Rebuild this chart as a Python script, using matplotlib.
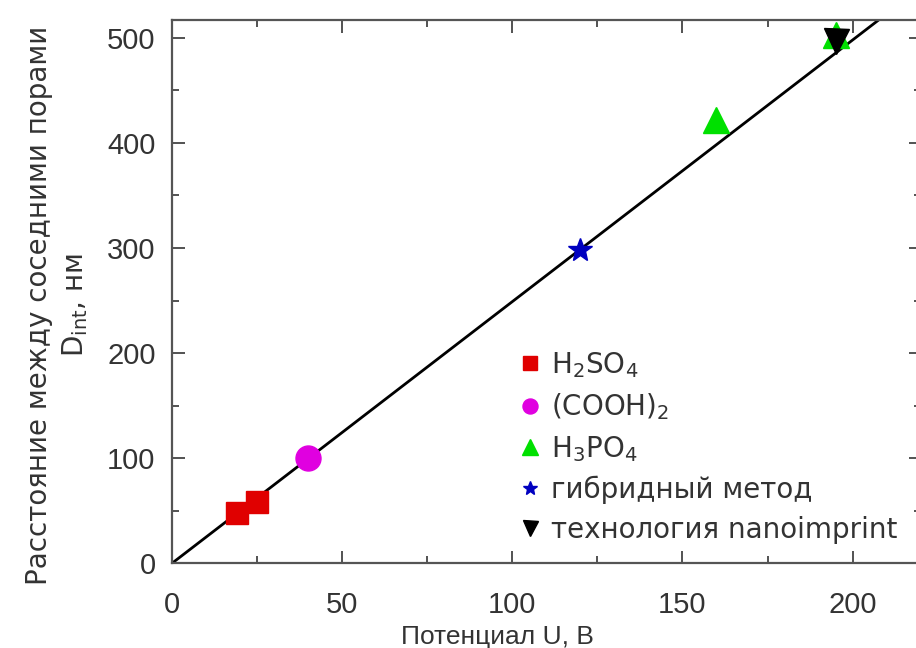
import matplotlib.pyplot as plt
from matplotlib.ticker import MultipleLocator

plt.rcParams['font.family'] = ['Liberation Sans', 'DejaVu Sans']
plt.rcParams['mathtext.fontset'] = 'dejavusans'

# данные
h2so4_u = [19, 25]
h2so4_d = [48, 58]
cooh_u = [40]
cooh_d = [100]
h3po4_u = [160, 195]
h3po4_d = [422, 503]
hybrid_u = [120]
hybrid_d = [298]
nano_u = [195]
nano_d = [497]
slope = 2.49  # нм/В, линейная аппроксимация
fit_u = [0, 225]

fig = plt.figure(figsize=(9.16, 6.48), dpi=100)
ax = fig.add_axes([0.188, 0.131, 0.817, 0.838])

ax.plot(fit_u, [slope * u for u in fit_u], color='black', lw=2, zorder=2)
ax.plot(h2so4_u, h2so4_d, 's', color='#e00000', ms=16, ls='none', label='H$_2$SO$_4$', zorder=3)
ax.plot(cooh_u, cooh_d, 'o', color='#e000e0', ms=18, ls='none', label='(COOH)$_2$', zorder=3)
ax.plot(h3po4_u, h3po4_d, '^', color='#00e000', ms=19, ls='none', label='H$_3$PO$_4$', zorder=3)
ax.plot(hybrid_u, hybrid_d, '*', color='#0000c0', ms=18, ls='none', label='гибридный метод', zorder=3)
ax.plot(nano_u, nano_d, 'v', color='black', ms=18, ls='none', label='технология nanoimprint', zorder=4)

ax.set_xlim(0, 220)
ax.set_ylim(0, 517)
ax.xaxis.set_major_locator(MultipleLocator(50))
ax.xaxis.set_minor_locator(MultipleLocator(25))
ax.yaxis.set_major_locator(MultipleLocator(100))
ax.yaxis.set_minor_locator(MultipleLocator(50))
ax.tick_params(which='both', direction='in', top=True, right=True, color='#444444', width=1.3)
ax.tick_params(which='major', length=9, labelsize=21, labelcolor='#333333')
ax.tick_params(axis='x', which='major', pad=20)
ax.tick_params(axis='y', which='major', pad=12)
ax.tick_params(which='minor', length=5)
for s in ax.spines.values():
    s.set_color('#555555')
    s.set_linewidth(1.6)

ax.set_xlabel('Потенциал U, В', fontsize=19, color='#333333')
ax.xaxis.set_label_coords(0.434, -0.114)
ax.set_ylabel('Расстояние между соседними порами\nD$_{\\mathrm{int}}$, нм', fontsize=20,
              color='#333333', family=['DejaVu Sans'], linespacing=1.3)
ax.yaxis.set_label_coords(-0.11, 0.475)

leg = ax.legend(loc='lower right', bbox_to_anchor=(0.995, 0.0), frameon=False,
                prop={'family': ['DejaVu Sans'], 'size': 20},
                markerscale=0.6, handletextpad=0.15, labelspacing=0.42, borderaxespad=0.3,
                handlelength=1.2, labelcolor='#333333')

fig.savefig('out.png', dpi=100)
